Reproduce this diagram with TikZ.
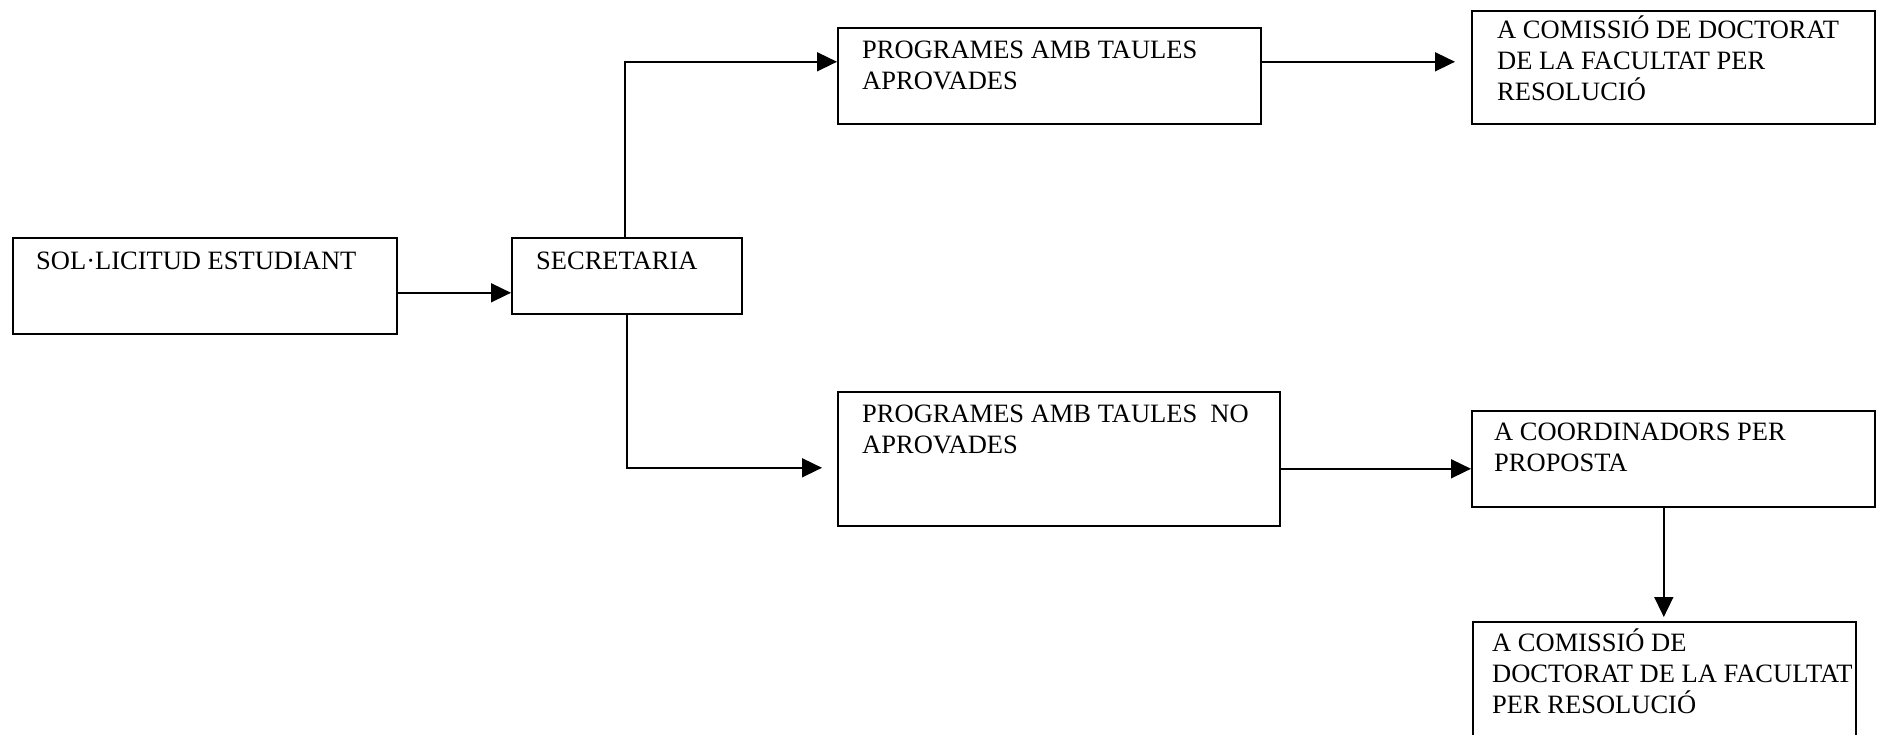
\documentclass[tikz,border=0pt]{standalone}
\usepackage{fontspec}
\setmainfont{Liberation Serif}
\usetikzlibrary{arrows.meta}
\tikzset{
  box/.style={draw, line width=1.6pt, rectangle, inner sep=0pt, anchor=north west},
  txt/.style={anchor=north west, inner sep=0pt, align=left, font={\fontsize{26.5}{31}\selectfont}},
  arr/.style={line width=1.6pt, -{Triangle[length=20pt,width=19pt]}},
}
\newcommand{\st}{\rule{0pt}{24pt}}
\begin{document}
\begin{tikzpicture}[x=1pt,y=-1pt]
\useasboundingbox (0,0) rectangle (1881,735);
\clip (0,0) rectangle (1881,735);
% boxes
\node[box, minimum width=384pt, minimum height=96pt] (A) at (12,237) {};
\node[box, minimum width=230pt, minimum height=76pt] (B) at (511,237) {};
\node[box, minimum width=423pt, minimum height=96pt] (C) at (837,27) {};
\node[box, minimum width=403pt, minimum height=113pt] (D) at (1471,10) {};
\node[box, minimum width=442pt, minimum height=134pt] (E) at (837,391) {};
\node[box, minimum width=403pt, minimum height=96pt] (F) at (1471,410) {};
\node[box, minimum width=383pt, minimum height=140pt] (G) at (1472,621) {};
% texts
\node[txt] (At) at (36,245) {\st SOL·LICITUD ESTUDIANT};
\node[txt] (Bt) at (536,245) {\st SECRETARIA};
\node[txt] (Ct) at (862,34) {\st PROGRAMES AMB TAULES\\APROVADES};
\node[txt] (Dt) at (1497,14) {\st A COMISSIÓ DE DOCTORAT\\DE LA FACULTAT PER\\RESOLUCIÓ};
\node[txt] (Et) at (862,398) {\st PROGRAMES AMB TAULES\ \ NO\\APROVADES};
\node[txt] (Ft) at (1494,416) {\st A COORDINADORS PER\\PROPOSTA};
\node[txt] (Gt) at (1492,627) {\st A COMISSIÓ DE\\DOCTORAT DE LA FACULTAT\\PER RESOLUCIÓ};
% connectors
\draw[arr] ([yshift=-7pt]A.east) -- ([yshift=-17pt]B.west);
\draw[arr] ([xshift=-2pt]B.north) |- ([yshift=14pt]C.west);
\draw[arr] (B.south) |- ([xshift=-15pt,yshift=-9pt]E.west);
\draw[arr] ([xshift=-2pt,yshift=14pt]C.east) -- ([xshift=-16pt,yshift=5.5pt]D.west);
\draw[arr] ([yshift=-10pt]E.east) -- ([yshift=-10pt]F.west);
\draw[arr] ([xshift=-0.5pt]G.north |- F.south) -- ([xshift=-0.5pt,yshift=4pt]G.north);
\end{tikzpicture}
\end{document}
